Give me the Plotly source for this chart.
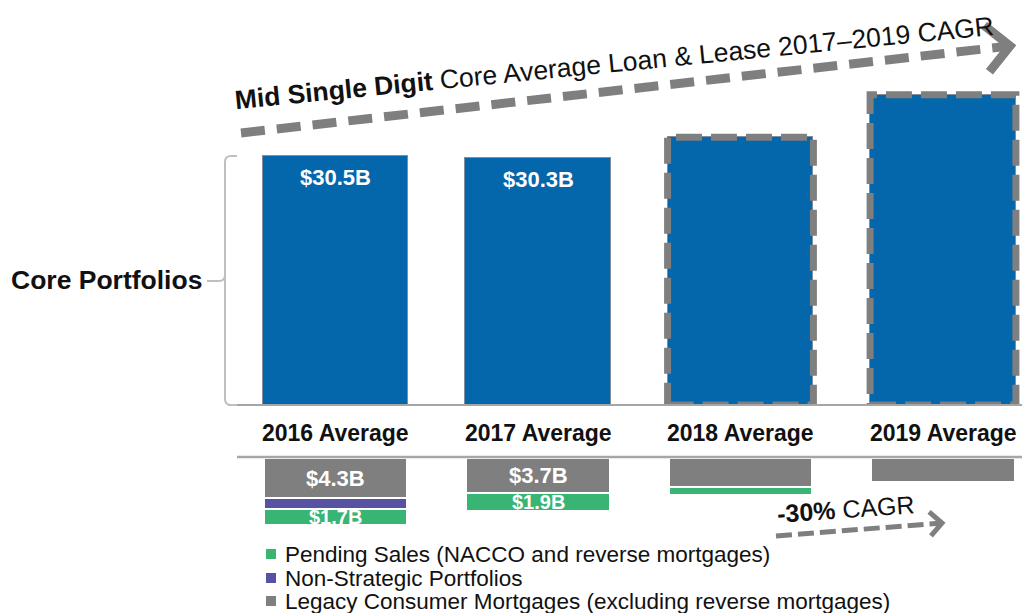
import math
import plotly.graph_objects as go

# page is rendered with an 8px body margin; design in page pixels
OFF = 8
W, H = 1030 - OFF, 613 - OFF

# ---------------- data ----------------
categories = ["2016 Average", "2017 Average", "2018 Average", "2019 Average"]
core_values = [30.5, 30.3, 32.8, 38.0]
core_labels = ["$30.5B", "$30.3B", "", ""]
core_projected = [False, False, True, True]

legacy_values = [4.3, 3.7, 3.1, 2.6]
nonstrategic_values = [1.1, None, None, None]
pending_values = [1.7, 1.9, 0.8, None]
legacy_labels = ["$4.3B", "$3.7B", "", ""]
pending_labels = ["$1.7B", "$1.9B", "", ""]

series_names = [
    "Pending Sales (NACCO and reverse mortgages)",
    "Non-Strategic Portfolios",
    "Legacy Consumer Mortgages (excluding reverse mortgages)",
]
top_arrow_text = "<b>Mid Single Digit</b> Core Average Loan &amp; Lease 2017\u20132019 CAGR"
bottom_arrow_text = "<b>-30%</b> CAGR"
bracket_text = "<b>Core Portfolios</b>"

# ---------------- styles ----------------
BLUE = "#0466AB"
GRAY = "#7F7F7F"
GREEN = "#38B473"
PURPLE = "#5852A3"
LINE = "#A6A6A6"
BRACKET = "#BFBFBF"
TXT = "#111111"
FONT = "Arial, Liberation Sans, sans-serif"

series_colors = [GREEN, PURPLE, GRAY]

idx = list(range(len(categories)))


def px(x, y):
    return (x - OFF) / W, 1 - (y - OFF) / H


def fx(x):
    return (x - OFF) / W


def fy(y):
    return 1 - (y - OFF) / H


def path(points):
    out = []
    for cmd, pts in points:
        coords = []
        for (x, y) in pts:
            a, b = px(x, y)
            coords.append(f"{a:.5f},{b:.5f}")
        out.append(cmd + " " + " ".join(coords))
    return " ".join(out)


# axis geometry (page pixel based)
X_LEFT_PX, X_RIGHT_PX = 206, 1030
XDOM = [fx(X_LEFT_PX), fx(X_RIGHT_PX)]
C0, SP = 335.5, 202.5
XRANGE = [(X_LEFT_PX - C0) / SP, (X_RIGHT_PX - C0) / SP]

TOP_BASE, TOP_TOP, TOP_SCALE = 405, 60, 8.164
LOW_BASE, LOW_BOT, LOW_SCALE = 458, 540, 9.4

fig = go.Figure()

# core bars
fig.add_trace(go.Bar(
    x=idx, y=core_values, width=0.72, xaxis="x", yaxis="y",
    marker=dict(color=BLUE, line=dict(color="#7F8FA0", width=1)),
    hoverinfo="skip", showlegend=False,
))

# lower stacked bars
for vals, col in [(legacy_values, GRAY), (nonstrategic_values, PURPLE), (pending_values, GREEN)]:
    fig.add_trace(go.Bar(
        x=idx, y=vals, width=0.71, xaxis="x2", yaxis="y2",
        marker=dict(color=col, line=dict(color="white", width=2)),
        hoverinfo="skip", showlegend=False,
    ))

shapes = []
annotations = []

# dashed outlines for projected years
for i, v, proj in zip(idx, core_values, core_projected):
    if proj:
        shapes.append(dict(type="rect", xref="x", yref="y",
                           x0=i - 0.36, x1=i + 0.36, y0=0, y1=v,
                           line=dict(color=GRAY, width=7, dash="26px,9px"),
                           fillcolor="rgba(0,0,0,0)", layer="above"))

# baseline lines
shapes.append(dict(type="line", xref="paper", yref="paper", x0=fx(228), x1=1,
                   y0=fy(TOP_BASE), y1=fy(TOP_BASE), line=dict(color=LINE, width=2)))
shapes.append(dict(type="line", xref="paper", yref="paper", x0=fx(237), x1=1,
                   y0=fy(457), y1=fy(457), line=dict(color=LINE, width=2.5)))

# bracket
shapes.append(dict(type="path", xref="paper", yref="paper",
                   path=path([("M", [(237, 156)]), ("L", [(231, 156)]),
                              ("Q", [(225, 156), (225, 162)]), ("L", [(225, 399)]),
                              ("Q", [(225, 405), (231, 405)]), ("L", [(237, 405)])]),
                   line=dict(color=BRACKET, width=2)))
shapes.append(dict(type="path", xref="paper", yref="paper",
                   path=path([("M", [(207, 281)]), ("L", [(219, 281)]),
                              ("Q", [(225, 281), (225, 275)])]),
                   line=dict(color=BRACKET, width=2)))


def dashed_arrow(sx, sy, tx, ty, width, dash, head):
    a = math.atan2(ty - sy, tx - sx)
    fx0, fy0 = px(sx, sy)
    fx1, fy1 = px(tx - 0.5 * width * math.cos(a), ty - 0.5 * width * math.sin(a))
    shapes.append(dict(type="line", xref="paper", yref="paper",
                       x0=fx0, y0=fy0, x1=fx1, y1=fy1,
                       line=dict(color=GRAY, width=width, dash=dash)))
    arms = []
    for s in (1, -1):
        b = a + math.pi + s * math.pi / 4
        arms.append((tx + head * math.cos(b), ty + head * math.sin(b)))
    shapes.append(dict(type="path", xref="paper", yref="paper",
                       path=path([("M", [arms[0]]), ("L", [(tx, ty)]), ("L", [arms[1]])]),
                       line=dict(color=GRAY, width=width)))


dashed_arrow(241, 133, 1010, 46, 9, "24px,12px", 33)
dashed_arrow(776, 536, 942, 523, 5, "16px,6px", 17)

# legend squares + text
legend_y = [554, 578, 601]
for name, col, yy in zip(series_names, series_colors, legend_y):
    xa, ya = px(266, yy - 5)
    xb, yb = px(276, yy + 5)
    shapes.append(dict(type="rect", xref="paper", yref="paper", x0=xa, x1=xb, y0=yb, y1=ya,
                       fillcolor=col, line=dict(width=0)))
    tx, ty = px(283, yy)
    annotations.append(dict(xref="paper", yref="paper", x=tx, y=ty, text=name,
                            xanchor="left", yanchor="middle", showarrow=False,
                            font=dict(family=FONT, size=22.5, color=TXT)))

# category labels
for i, c in zip(idx, categories):
    annotations.append(dict(xref="x", yref="paper", x=i, y=fy(433), text=f"<b>{c}</b>",
                            xanchor="center", yanchor="middle", showarrow=False,
                            font=dict(family=FONT, size=23, color=TXT)))

# core bar labels
for i, v, lab in zip(idx, core_values, core_labels):
    if lab:
        annotations.append(dict(xref="x", yref="y", x=i, y=v, text=f"<b>{lab}</b>",
                                xanchor="center", yanchor="top", yshift=-7, showarrow=False,
                                font=dict(family=FONT, size=22, color="white")))

# lower bar labels
for i, lv, lab in zip(idx, legacy_values, legacy_labels):
    if lab:
        annotations.append(dict(xref="x2", yref="y2", x=i, y=lv / 2, text=f"<b>{lab}</b>",
                                xanchor="center", yanchor="middle", showarrow=False,
                                font=dict(family=FONT, size=22, color="white")))
for i, lv, nv, pv, lab in zip(idx, legacy_values, nonstrategic_values, pending_values, pending_labels):
    if lab:
        base = lv + (nv or 0)
        annotations.append(dict(xref="x2", yref="y2", x=i, y=base + pv / 2, text=f"<b>{lab}</b>",
                                xanchor="center", yanchor="middle", showarrow=False,
                                font=dict(family=FONT, size=20, color="white")))

# text annotations
tx, ty = px(614.5, 63)
annotations.append(dict(xref="paper", yref="paper", x=tx, y=ty, text=top_arrow_text,
                        textangle=-5.6, xanchor="center", yanchor="middle", showarrow=False,
                        font=dict(family=FONT, size=26.5, color=TXT)))
tx, ty = px(846, 509)
annotations.append(dict(xref="paper", yref="paper", x=tx, y=ty, text=bottom_arrow_text,
                        textangle=-4, xanchor="center", yanchor="middle", showarrow=False,
                        font=dict(family=FONT, size=25, color=TXT)))
tx, ty = px(204, 280)
annotations.append(dict(xref="paper", yref="paper", x=tx, y=ty, text=bracket_text,
                        xanchor="right", yanchor="middle", showarrow=False,
                        font=dict(family=FONT, size=26.5, color=TXT)))

fig.update_layout(
    width=W, height=H,
    margin=dict(l=0, r=0, t=0, b=0),
    paper_bgcolor="white", plot_bgcolor="white",
    barmode="stack", bargap=0, showlegend=False,
    font=dict(family=FONT, color=TXT),
    xaxis=dict(domain=XDOM, range=XRANGE, visible=False, fixedrange=True),
    yaxis=dict(domain=[fy(TOP_BASE), fy(TOP_TOP)],
               range=[0, (TOP_BASE - TOP_TOP) / TOP_SCALE], visible=False, fixedrange=True),
    xaxis2=dict(domain=XDOM, range=XRANGE, visible=False, anchor="y2", fixedrange=True),
    yaxis2=dict(domain=[fy(LOW_BOT), fy(LOW_BASE)],
                range=[(LOW_BOT - LOW_BASE) / LOW_SCALE, 0], visible=False, anchor="x2",
                fixedrange=True),
    shapes=shapes,
    annotations=annotations,
)

fig.write_html("out.html")
